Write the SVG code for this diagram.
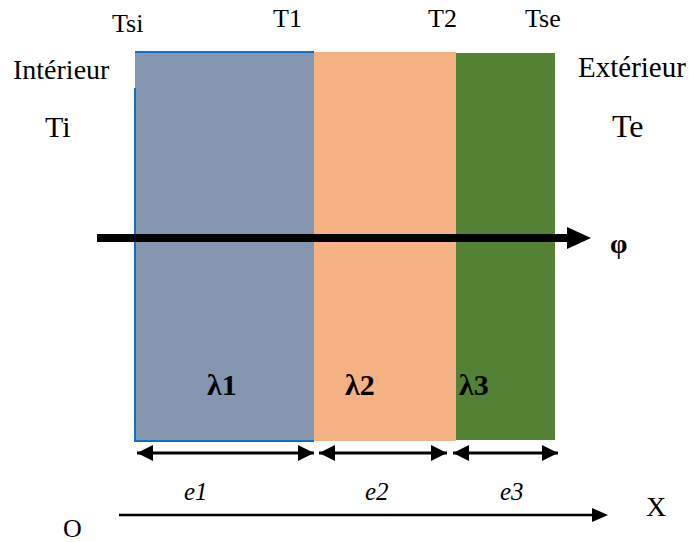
<svg xmlns="http://www.w3.org/2000/svg" width="689" height="542" viewBox="0 0 689 542">
<style>
text{font-family:"Liberation Serif","Tinos","Times New Roman",Times,"DejaVu Serif",serif;fill:#000}
.lbl{font-size:26px}
.big{font-size:28px}
.lam{font-size:30px;font-weight:bold}
.e{font-size:25px;font-style:italic}
.dim{stroke:#000;stroke-width:3;fill:none}
</style>
<defs>
<marker id="ah" markerUnits="userSpaceOnUse" markerWidth="16" markerHeight="16" refX="16" refY="8" orient="auto-start-reverse" viewBox="0 0 16 16">
<path d="M0,0 L16,8 L0,16 Z" fill="#000"/>
</marker>
</defs>
<g id="layer1">
<rect x="135" y="52" width="179" height="389" fill="#8496B0"/>
<path d="M135,52 H314 M135,88 V441 H314" fill="none" stroke="#1070C8" stroke-width="2"/>
</g>
<g id="layer2"><rect x="314" y="52" width="142" height="389" fill="#F4B183"/></g>
<g id="layer3"><rect x="456" y="53" width="99" height="387" fill="#548235"/></g>
<g id="labels">
<text class="lbl" x="112" y="32">Tsi</text>
<text class="lbl" x="273" y="27">T1</text>
<text class="lbl" x="428" y="27">T2</text>
<text class="lbl" x="525" y="27">Tse</text>
<text class="big" x="13" y="79">Intérieur</text>
<text class="big" x="578" y="77" style="font-size:29px">Extérieur</text>
<text x="45" y="137" style="font-size:30px">Ti</text>
<text x="612" y="137" style="font-size:32px">Te</text>
<text class="lam" x="207" y="395">λ1</text>
<text class="lam" x="345" y="395">λ2</text>
<text class="lam" x="459" y="395">λ3</text>
<text x="610" y="253" style="font-size:28px;font-weight:bold">φ</text>
<text class="e" x="184" y="500">e1</text>
<text class="e" x="365" y="500">e2</text>
<text class="e" x="500" y="500">e3</text>
<text class="big" x="646" y="516">X</text>
<text x="63" y="537" style="font-size:26px">O</text>
</g>
<g id="connectors">
<line x1="97" y1="238" x2="568" y2="238" stroke="#000" stroke-width="8"/>
<polygon points="567,227 591,238 567,249" fill="#000"/>
<line class="dim" x1="137" y1="453" x2="314" y2="453" marker-start="url(#ah)" marker-end="url(#ah)"/>
<line class="dim" x1="319" y1="453" x2="447" y2="453" marker-start="url(#ah)" marker-end="url(#ah)"/>
<line class="dim" x1="453" y1="453" x2="558" y2="453" marker-start="url(#ah)" marker-end="url(#ah)"/>
<line x1="119" y1="515" x2="594" y2="515" stroke="#000" stroke-width="2.5"/>
<polygon points="592,508 608,515 592,522" fill="#000"/>
</g>
</svg>
